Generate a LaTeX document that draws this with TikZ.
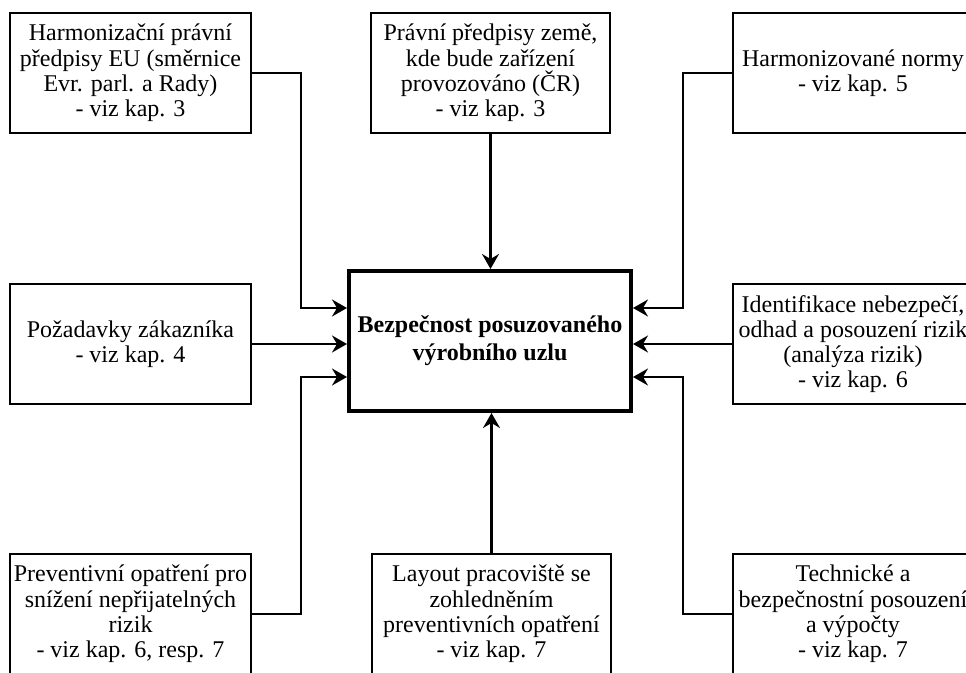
\documentclass[tikz,border=0pt]{standalone}
\usepackage{fontspec}
\setmainfont{Liberation Serif}
\usetikzlibrary{arrows.meta}
\tikzset{
  infobox/.style={
    draw=black,
    line width=1pt,
    fill=white,
    minimum width=120.5pt,
    minimum height=60pt,
    align=center,
    inner sep=1pt,
    font=\fontsize{12}{12.6}\selectfont
  },
  mainbox/.style={
    draw=black,
    line width=2pt,
    fill=white,
    minimum width=141pt,
    minimum height=70pt,
    align=center,
    font=\fontsize{12}{14}\selectfont\bfseries
  },
  feed/.style={
    line width=1.1pt,
    -{Stealth[length=7.5pt,width=8.5pt,inset=2.5pt]}
  }
}
\begin{document}
\begin{tikzpicture}[x=0.5pt,y=-0.5pt]
\path[use as bounding box,clip] (0,0) rectangle (966,673);
\fill[white] (0,0) rectangle (966,673);
\node[mainbox] (uzel) at (490,341) {Bezpečnost posuzovaného\\výrobního uzlu};
\node[infobox] (eu) at (130.5,73) {Harmonizační právní\\předpisy EU (směrnice\\Evr. parl. a Rady)\\- viz kap. 3};
\node[infobox, minimum width=119.5pt] (cr) at (490.5,73) {Právní předpisy země,\\kde bude zařízení\\provozováno (ČR)\\- viz kap. 3};
\node[infobox] (normy) at (853,73) {Harmonizované normy\\- viz kap. 5};
\node[infobox] (zak) at (130.5,344) {Požadavky zákazníka\\- viz kap. 4};
\node[infobox] (rizika) at (853,344) {Identifikace nebezpečí,\\odhad a posouzení rizik\\(analýza rizik)\\- viz kap. 6};
\node[infobox] (prev) at (130.5,614) {Preventivní opatření pro\\snížení nepřijatelných\\rizik\\- viz kap. 6, resp. 7};
\node[infobox, minimum width=119.5pt] (layout) at (491.5,614) {Layout pracoviště se\\zohledněním\\preventivních opatření\\- viz kap. 7};
\node[infobox] (vypocty) at (853,614) {Technické a\\bezpečnostní posouzení\\a výpočty\\- viz kap. 7};
% bends of the side feeds
\coordinate (lt) at (301,308);
\coordinate (lb) at (301,377);
\coordinate (rt) at (683,308);
\coordinate (rb) at (683,377);
\draw[feed] (eu.east) -| (lt) -- (lt -| uzel.west);
\draw[feed] (zak.east) -- (zak.east -| uzel.west);
\draw[feed] (prev.east) -| (lb) -- (lb -| uzel.west);
\draw[feed] (cr.south) -- (cr.south |- uzel.north);
\draw[feed] (layout.north) -- (layout.north |- uzel.south);
\draw[feed] (normy.west) -| (rt) -- (rt -| uzel.east);
\draw[feed] (rizika.west) -- (rizika.west -| uzel.east);
\draw[feed] (vypocty.west) -| (rb) -- (rb -| uzel.east);
\end{tikzpicture}
\end{document}
